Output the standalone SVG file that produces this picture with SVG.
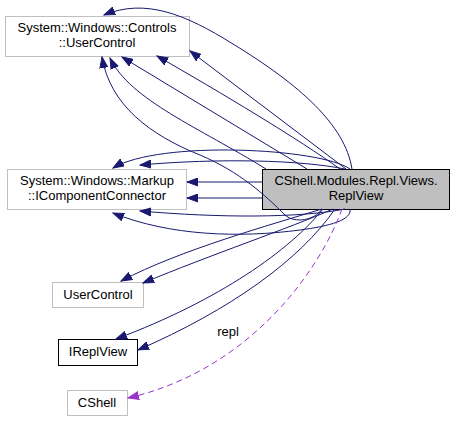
<svg xmlns="http://www.w3.org/2000/svg" width="455" height="421" viewBox="0 0 455 421">
<style>
  text { font-family: "Liberation Sans", Arial, sans-serif; font-size: 13px; fill: #000; text-anchor: middle; }
  .nb { fill: #fff; stroke: #bfbfbf; stroke-width: 1; }
  .nk { fill: #fff; stroke: #000; stroke-width: 1; }
  .nc { fill: #bfbfbf; stroke: #000; stroke-width: 1; }
  .e { fill: none; stroke: #191970; stroke-width: 1; marker-end: url(#ah); }
  .d { fill: none; stroke: #9a32cd; stroke-width: 1; stroke-dasharray: 6,4; marker-end: url(#ahp); }
</style>
<defs>
  <marker id="ah" markerUnits="userSpaceOnUse" markerWidth="12" markerHeight="9" refX="11" refY="4.5" orient="auto" viewBox="0 0 12 9">
    <path d="M0,0.5 L11,4.5 L0,8.5 z" fill="#191970" stroke="#191970"/>
  </marker>
  <marker id="ahp" markerUnits="userSpaceOnUse" markerWidth="12" markerHeight="9" refX="11" refY="4.5" orient="auto" viewBox="0 0 12 9">
    <path d="M0,0.5 L11,4.5 L0,8.5 z" fill="#9a32cd" stroke="#9a32cd"/>
  </marker>
</defs>
<rect width="455" height="421" fill="#fff"/>

<g id="n_usercontrol_sys">
  <rect class="nb" x="5.5" y="16.5" width="184" height="40"/>
  <text x="97" y="32">System::Windows::Controls</text>
  <text x="97" y="47">::UserControl</text>
</g>
<g id="n_icomponentconnector">
  <rect class="nb" x="7.5" y="169.5" width="179" height="40"/>
  <text x="97" y="185">System::Windows::Markup</text>
  <text x="97" y="200">::IComponentConnector</text>
</g>
<g id="n_replview">
  <rect class="nc" x="262.5" y="169.5" width="187" height="40"/>
  <text x="356" y="185">CShell.Modules.Repl.Views.</text>
  <text x="356" y="200">ReplView</text>
</g>
<g id="n_usercontrol">
  <rect class="nb" x="52.5" y="282.5" width="91" height="25"/>
  <text x="98" y="299">UserControl</text>
</g>
<g id="n_ireplview">
  <rect class="nk" x="58.5" y="339.5" width="79" height="26"/>
  <text x="98" y="356">IReplView</text>
</g>
<g id="n_cshell">
  <rect class="nb" x="67.5" y="390.5" width="60" height="25"/>
  <text x="97" y="407">CShell</text>
</g>

<g id="connectors">
  <path class="e" d="M352,169 C345,125 300,85 233,44 C185,14 145,-2 104,15"/>
  <path class="e" d="M346,169 L190,51"/>
  <path class="e" d="M340,169 C300,140 220,92 157,56"/>
  <path class="e" d="M307,169 L122,57"/>
  <path class="e" d="M266,169 C200,128 130,100 110,58"/>
  <path class="e" d="M322,209 C315,220 295,224 285,215 C265,195 240,172 200,155 C150,135 110,105 102,57"/>

  <path class="e" d="M350,169 C320,148 160,140 113,168"/>
  <path class="e" d="M345,169 C300,160 220,158 140,165"/>
  <path class="e" d="M262,182 L187,182"/>
  <path class="e" d="M262,198 L187,198"/>
  <path class="e" d="M345,209 C300,218 220,218 140,211"/>
  <path class="e" d="M350,209 C352,220 330,226 300,230 C240,238 170,236 113,213"/>

  <path class="e" d="M322,209 C270,225 180,250 121,281"/>
  <path class="e" d="M333,209 C290,228 210,255 143,283"/>

  <path class="e" d="M323,209 C290,250 220,300 116,339"/>
  <path class="e" d="M335,209 C300,260 230,310 138,350"/>

  <path class="d" d="M342,209 C320,270 250,370 128,398"/>
  <text x="228" y="336">repl</text>
</g>
</svg>
